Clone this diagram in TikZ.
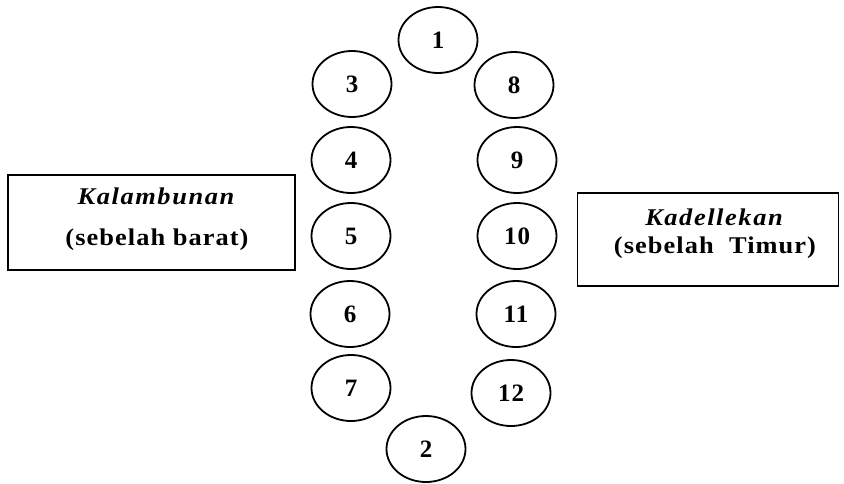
\documentclass[tikz,border=0pt]{standalone}
\usepackage{graphicx}
\usepackage{fontspec}
\setmainfont{Liberation Serif}
\newfontfamily\seatfont[LetterSpace=4]{Liberation Serif}
\newfontfamily\westnamefont[LetterSpace=6]{Liberation Serif}
\newfontfamily\westdirfont[LetterSpace=4]{Liberation Serif}
\newfontfamily\eastnamefont[LetterSpace=6]{Liberation Serif}
\newfontfamily\eastdirfont[LetterSpace=4]{Liberation Serif}
\newcommand{\widetxt}[1]{\scalebox{1.1}[1]{#1}}
\usetikzlibrary{shapes.geometric}
\tikzset{
  seat/.style={draw, line width=1.8pt, ellipse, minimum width=79pt, minimum height=66pt, inner sep=0pt,
    font=\seatfont\fontsize{25}{27}\selectfont\bfseries},
  sidebox/.style={draw, line width=1.8pt, rectangle, inner sep=0pt},
  boxtext/.style={inner sep=0pt}
}
\begin{document}
\begin{tikzpicture}[x=1pt,y=-1pt]
\useasboundingbox (0,0) rectangle (844,483);
% seats
\node[seat] (s1)  at (438,40)  {1};
\node[seat] (s3)  at (352,84)  {3};
\node[seat] (s8)  at (514,85)  {8};
\node[seat] (s4)  at (351,160) {4};
\node[seat] (s9)  at (517,160) {9};
\node[seat] (s5)  at (351,236) {5};
\node[seat] (s10) at (517,236) {10};
\node[seat] (s6)  at (350,314) {6};
\node[seat] (s11) at (516,314) {11};
\node[seat] (s7)  at (351,388) {7};
\node[seat] (s12) at (511,393) {12};
\node[seat] (s2)  at (426,449) {2};
% side boxes
\node[sidebox, minimum width=287pt, minimum height=95pt] (west) at (151.5,222.5) {};
\node[boxtext, font=\westnamefont\fontsize{24}{26}\selectfont\bfseries\itshape] (westname) at (156,196) {\widetxt{Kalambunan}};
\node[boxtext, font=\westdirfont\fontsize{24}{26}\selectfont\bfseries] (westdir) at (157,240) {\widetxt{(sebelah barat)}};
\node[sidebox, minimum width=261pt, minimum height=93pt] (east) at (708,239.5) {};
\node[boxtext, font=\eastnamefont\fontsize{24}{26}\selectfont\bfseries\itshape] (eastname) at (714,217) {\widetxt{Kadellekan}};
\node[boxtext, font=\eastdirfont\fontsize{24}{26}\selectfont\bfseries] (eastdir) at (715,248) {\widetxt{(sebelah\ \ Timur)}};
\end{tikzpicture}
\end{document}
